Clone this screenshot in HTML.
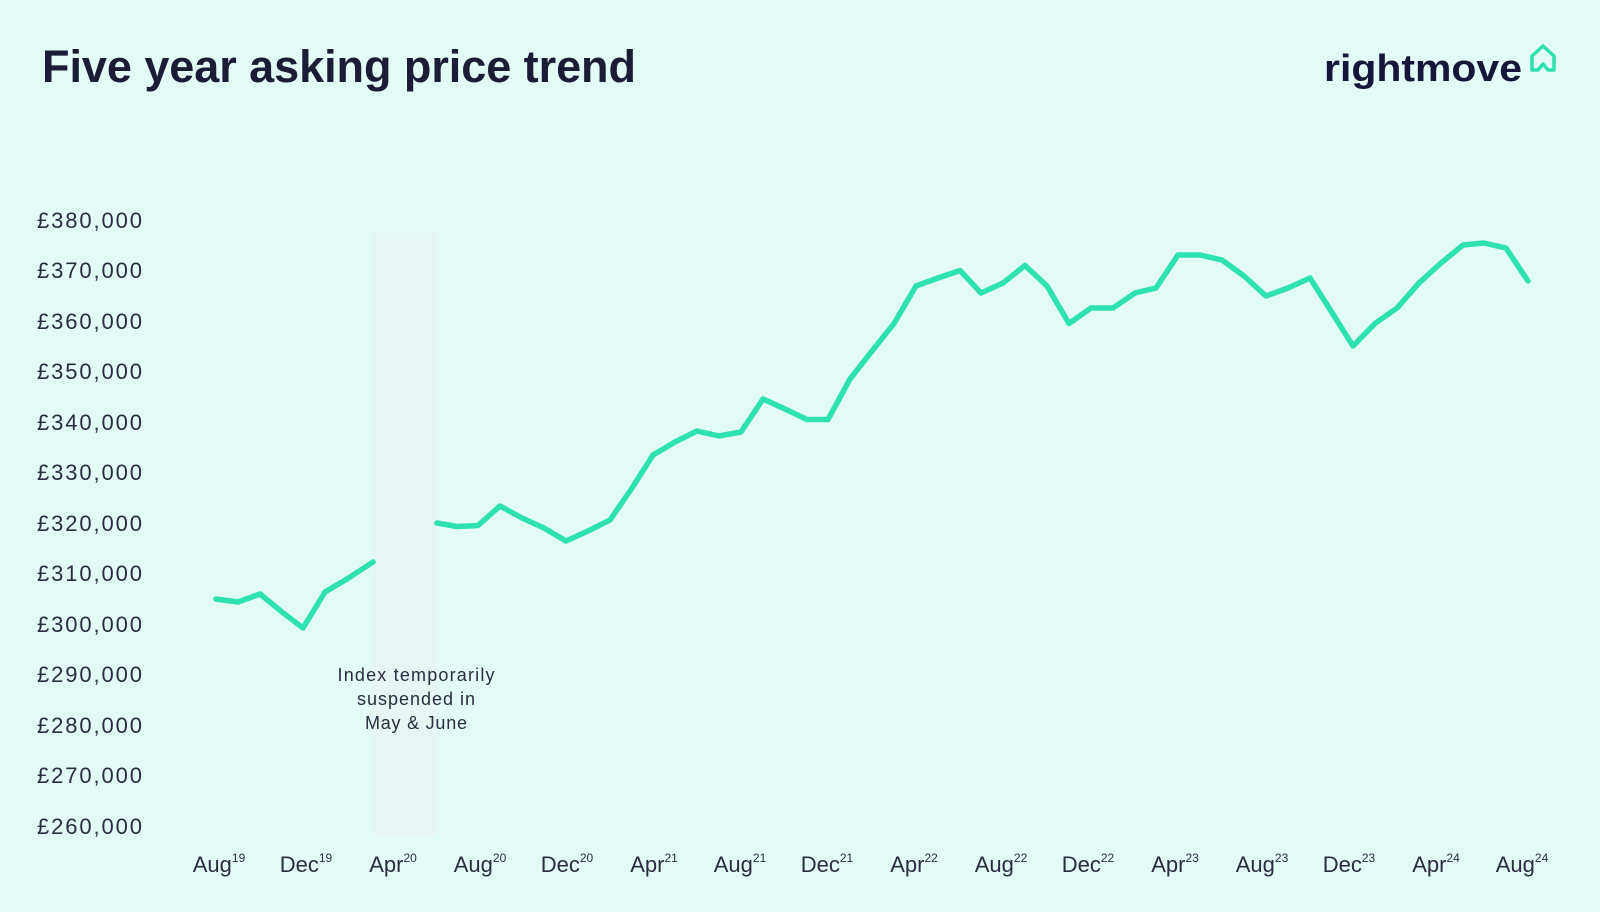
<!DOCTYPE html>
<html><head><meta charset="utf-8"><style>
html,body{margin:0;padding:0}
body{width:1600px;height:912px;background:#e3fbf5;overflow:hidden;position:relative;font-family:"Liberation Sans",sans-serif;color:#1b1c36}
</style></head><body>
<svg width="1600" height="912" viewBox="0 0 1600 912" xmlns="http://www.w3.org/2000/svg" style="position:absolute;left:0;top:0">
<rect x="0" y="0" width="1600" height="912" fill="#e3fbf5"/>
<rect x="373" y="233" width="64" height="604" fill="#e6f6f2"/>
<text x="42" y="82" font-family="Liberation Sans, sans-serif" font-weight="bold" font-size="45" fill="#1b1c36" textLength="594" lengthAdjust="spacing">Five year asking price trend</text>
<text x="1324" y="81" font-family="Liberation Sans, sans-serif" font-weight="bold" font-size="38" fill="#14163a" textLength="198" lengthAdjust="spacingAndGlyphs">rightmove</text>
<path d="M1532 70 L1532 56 L1543 46 L1554 56 L1554 70 L1548 70 L1543 64 L1538 70 Z" fill="none" stroke="#2ee0ae" stroke-width="3.5" stroke-linejoin="round"/>
<g font-family="Liberation Sans, sans-serif" font-size="22" fill="#2a2c40" text-anchor="start">
<text x="37" y="228" textLength="105">£380,000</text>
<text x="37" y="278" textLength="105">£370,000</text>
<text x="37" y="329" textLength="105">£360,000</text>
<text x="37" y="379" textLength="105">£350,000</text>
<text x="37" y="430" textLength="105">£340,000</text>
<text x="37" y="480" textLength="105">£330,000</text>
<text x="37" y="531" textLength="105">£320,000</text>
<text x="37" y="581" textLength="105">£310,000</text>
<text x="37" y="632" textLength="105">£300,000</text>
<text x="37" y="682" textLength="105">£290,000</text>
<text x="37" y="733" textLength="105">£280,000</text>
<text x="37" y="783" textLength="105">£270,000</text>
<text x="37" y="834" textLength="105">£260,000</text>
</g>
<g font-family="Liberation Sans, sans-serif" font-size="22" fill="#2a2c40" text-anchor="middle">
<text x="219" y="872">Aug<tspan font-size="12" dy="-10">19</tspan></text>
<text x="306" y="872">Dec<tspan font-size="12" dy="-10">19</tspan></text>
<text x="393" y="872">Apr<tspan font-size="12" dy="-10">20</tspan></text>
<text x="480" y="872">Aug<tspan font-size="12" dy="-10">20</tspan></text>
<text x="567" y="872">Dec<tspan font-size="12" dy="-10">20</tspan></text>
<text x="654" y="872">Apr<tspan font-size="12" dy="-10">21</tspan></text>
<text x="740" y="872">Aug<tspan font-size="12" dy="-10">21</tspan></text>
<text x="827" y="872">Dec<tspan font-size="12" dy="-10">21</tspan></text>
<text x="914" y="872">Apr<tspan font-size="12" dy="-10">22</tspan></text>
<text x="1001" y="872">Aug<tspan font-size="12" dy="-10">22</tspan></text>
<text x="1088" y="872">Dec<tspan font-size="12" dy="-10">22</tspan></text>
<text x="1175" y="872">Apr<tspan font-size="12" dy="-10">23</tspan></text>
<text x="1262" y="872">Aug<tspan font-size="12" dy="-10">23</tspan></text>
<text x="1349" y="872">Dec<tspan font-size="12" dy="-10">23</tspan></text>
<text x="1436" y="872">Apr<tspan font-size="12" dy="-10">24</tspan></text>
<text x="1522" y="872">Aug<tspan font-size="12" dy="-10">24</tspan></text>
</g>
<g font-family="Liberation Sans, sans-serif" font-size="18" fill="#2a2c40" text-anchor="middle">
<text x="416" y="681" textLength="157">Index temporarily</text>
<text x="416" y="705" textLength="118">suspended in</text>
<text x="416" y="729" textLength="102">May &amp; June</text>
</g>
<g fill="none" stroke="#2ee2b0" stroke-width="5.5" stroke-linecap="round" stroke-linejoin="round">
<polyline points="216,599 238,602 260,594 282,612 303,628 325,592 347,579 373,562"/>
<polyline points="437,523 457,526.5 478,525.5 500,506 522,518 544,528 566,541 588,531 610,520 632,488 653,455 675,442 697,431 719,436 741,432 763,399 785,409 807,419.5 828,419.5 850,379 872,351 894,323.5 916,286 938,278 960,270.5 981,293 1003,283 1025,265.5 1047,286 1069,323.5 1091,308 1113,308 1135,293 1156,288 1178,255 1200,255 1222,260 1244,276 1266,296 1288,288 1310,278 1331,311 1353,346 1375,323.5 1397,308 1419,283 1441,263 1463,245 1484,243 1506,248 1528,281"/>
</g>
</svg>
</body></html>
